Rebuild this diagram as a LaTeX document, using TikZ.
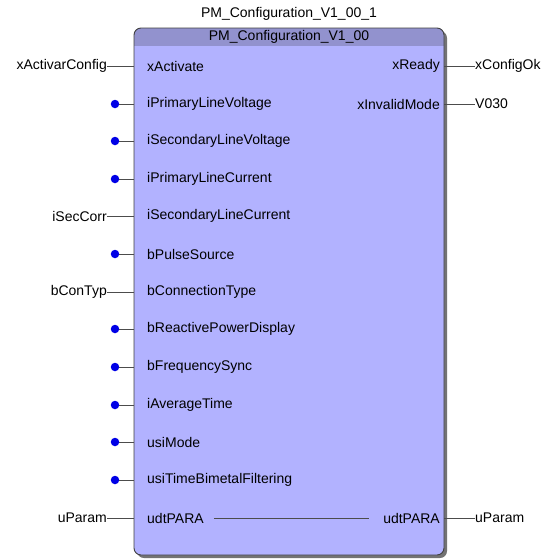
\documentclass[tikz,border=0pt]{standalone}
\usepackage{fontspec}
\setmainfont{Liberation Sans}
\definecolor{fbfill}{RGB}{178,178,255}
\definecolor{fbhead}{RGB}{146,146,206}
\definecolor{pindot}{RGB}{0,0,230}
\begin{document}
\begin{tikzpicture}
[x=1pt,y=-1pt,
  pintext/.style={font=\fontsize{14}{16}\selectfont,inner sep=0pt},%
  pinline/.style={-,draw=black!70,line width=0.8pt},%
  pindecorate/.style={shape=circle,fill=pindot,inner sep=0pt,minimum size=8.5pt}]
\useasboundingbox (0,0) rectangle (544,560);
%% block body
\fill[black!55,rounded corners=7pt] (137,31) rectangle (447,558);
\fill[fbfill,rounded corners=7pt] (134,28) rectangle (444,555);
\begin{scope}
  \clip[rounded corners=7pt] (134,28) rectangle (444,555);
  \fill[fbhead] (134,28) rectangle (444,46);
\end{scope}
\draw[black!75,line width=0.9pt,rounded corners=7pt] (134,28) rectangle (444,555);
\node (inst) [pintext] at (289,14) {PM\_Configuration\_V1\_00\_1};
\node (type) [pintext] at (289,37) {PM\_Configuration\_V1\_00};
%% inputs
\foreach \pinname/\y in {xActivate/66, iPrimaryLineVoltage/104,
  iSecondaryLineVoltage/141, iPrimaryLineCurrent/179,
  iSecondaryLineCurrent/216, bPulseSource/254, bConnectionType/292,
  bReactivePowerDisplay/329, bFrequencySync/367, iAverageTime/405,
  usiMode/442, usiTimeBimetalFiltering/480, udtPARA/518}
{
  \coordinate (in-\pinname) at (134,\y);
  \node (\pinname) [pintext,anchor=west] at (147,\y) {\pinname};
}
%% outputs
\foreach \pinname/\y in {xReady/66, xInvalidMode/104, udtPARA/518}
{
  \coordinate (out-\pinname) at (444,\y);
  \node (o\pinname) [pintext,anchor=east] at (440,\y) {\pinname};
}
%% open inputs
\foreach \pinname in {iPrimaryLineVoltage, iSecondaryLineVoltage,
  iPrimaryLineCurrent, bPulseSource, bReactivePowerDisplay,
  bFrequencySync, iAverageTime, usiMode, usiTimeBimetalFiltering}
{
  \node (dot-\pinname) [pindecorate] at ([xshift=-19pt]in-\pinname) {};
  \draw[pinline] (dot-\pinname) -- (in-\pinname);
}
%% connected inputs
\foreach \pinname/\varname in {xActivate/xActivarConfig,
  iSecondaryLineCurrent/iSecCorr, bConnectionType/bConTyp,
  udtPARA/uParam}
{
  \node (var-\pinname) [pintext,anchor=east] at ([xshift=-27pt]in-\pinname) {\varname};
  \draw[pinline] (var-\pinname) -- (in-\pinname);
}
%% connected outputs
\foreach \pinname/\varname in {xReady/xConfigOk, xInvalidMode/V030,
  udtPARA/uParam}
{
  \node (ovar-\pinname) [pintext,anchor=west] at ([xshift=31pt]out-\pinname) {\varname};
  \draw[pinline] (out-\pinname) -- (ovar-\pinname);
}
%% in-out link
\draw[pinline] ([xshift=10pt]udtPARA.east) -- ([xshift=-14pt]oudtPARA.west);
\end{tikzpicture}
\end{document}
